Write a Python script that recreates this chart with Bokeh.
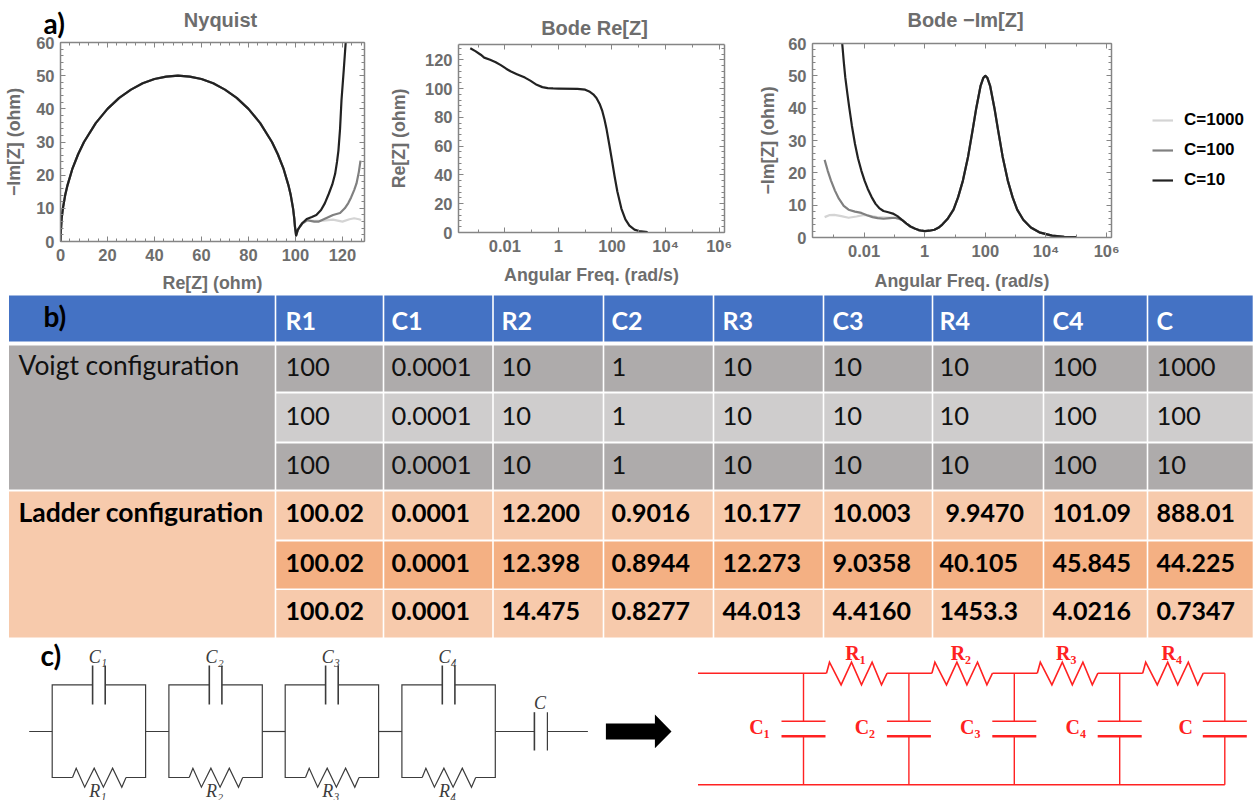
from bokeh.embed import file_html
from bokeh.resources import INLINE
from bokeh.core.properties import value
from bokeh.models import (CustomJSTickFormatter, CustomLabelingPolicy, FixedTicker, Legend, LegendItem,
                          LinearAxis, LogAxis, Range1d)
from bokeh.plotting import figure

# ---------- chart data ----------
arc_re = [0, 0.1, 0.5, 1, 2, 3, 5, 7.5, 10, 15, 20, 25, 30, 35, 40, 45, 50, 55, 60, 65, 70, 75, 80, 85, 90, 92.5, 95, 97, 98, 99, 99.5, 99.8, 100.3]
arc_im = [0, 2.5, 7, 9.9, 14, 17, 21.8, 26.3, 30, 35.7, 40, 43.3, 45.8, 47.7, 49, 49.7, 50, 49.7, 49, 47.7, 45.8, 43.3, 40, 35.7, 30, 26.3, 21.8, 17, 14, 9.9, 7, 4.5, 1.8]
tail_re_10 = [101, 102, 103, 104.8, 107, 108.9, 110.9, 112.5, 114.2, 115.7, 116.9, 117.7, 118.3, 119, 119.6, 120.6, 121.4]
tail_im_10 = [3.5, 4.6, 5.6, 6.8, 7.4, 8.0, 9.5, 11.5, 14.4, 17.2, 20.4, 24, 27.4, 34, 42.5, 52, 60]
tail_re_100 = [101, 102, 103, 105, 108, 110, 113, 116, 119, 121, 122.5, 123.7, 125, 126, 127, 127.7]
tail_im_100 = [3.5, 4.6, 5.5, 6.4, 6.0, 6.0, 7.0, 8.0, 8.6, 10, 11.6, 13.3, 15.5, 17.5, 21, 24.4]
tail_re_1000 = [101, 102, 103, 105, 108, 112, 116, 120, 123, 125, 127, 128]
tail_im_1000 = [3.5, 4.6, 5.5, 6.4, 6.2, 6.3, 6.6, 6.0, 6.7, 7.0, 6.7, 6.5]

re_logw = [-3.29, -3.1, -2.9, -2.77, -2.55, -2.34, -2.15, -1.95, -1.79, -1.55, -1.25, -1.05, -0.81, -0.6, -0.4, -0.2, 0, 0.71, 1.0, 1.15, 1.3, 1.42, 1.55, 1.64, 1.72, 1.8, 1.9, 2.0, 2.1, 2.2, 2.35, 2.5, 2.65, 2.84, 3.0, 3.33]
re_z = [128, 126, 123.5, 121.5, 120, 118.3, 116.3, 113.8, 112, 110, 107.6, 105.5, 102.6, 101, 100.3, 100.1, 100, 99.8, 99.2, 98, 96, 93.5, 88.9, 84.3, 78.5, 71.5, 61, 50, 38.7, 28.5, 16.6, 9.1, 4.8, 2, 1, 0.2]

common_logw = [-0.73, -0.6, -0.47, -0.33, -0.2, -0.1, 0, 0.15, 0.32, 0.45, 0.58, 0.75, 0.95, 1.1, 1.26, 1.43, 1.58, 1.7, 1.84, 1.93, 2, 2.07, 2.16, 2.3, 2.42, 2.57, 2.74, 2.9, 3.05, 3.25, 3.5, 3.78, 4.2, 4.6, 5.0]
common_im = [5.3, 4.3, 3.4, 2.8, 2.3, 2.1, 2.0, 2.1, 2.4, 3.0, 4.0, 5.7, 8.6, 12.4, 17.6, 25, 33.2, 40, 46.8, 49.3, 50, 49.3, 46.8, 40, 33.2, 25, 17.6, 12.4, 8.6, 5.5, 3.1, 1.6, 0.6, 0.2, 0.1]
low_logw_10 = [-2.72, -2.67, -2.62, -2.55, -2.49, -2.4, -2.3, -2.2, -2.09, -1.98, -1.88, -1.75, -1.62, -1.5, -1.36, -1.2, -1.05, -0.9]
low_im_10 = [60, 54.5, 49.6, 44.5, 40.3, 34.5, 29, 24.5, 20.7, 17.5, 15.1, 12.5, 10.4, 9.1, 8.2, 7.8, 7.4, 6.6]
low_logw_100 = [-3.3, -3.2, -3.09, -2.96, -2.83, -2.67, -2.51, -2.3, -2.09, -1.9, -1.72, -1.55, -1.36, -1.15, -0.99, -0.85]
low_im_100 = [24, 20.7, 17.6, 14.5, 12, 9.8, 8.6, 8.0, 7.6, 6.9, 6.3, 6.0, 5.8, 6.0, 6.1, 5.8]
low_logw_1000 = [-3.3, -3.15, -2.98, -2.75, -2.51, -2.25, -2.0, -1.57, -1.05, -0.85]
low_im_1000 = [6.3, 6.9, 7.0, 6.6, 6.1, 6.5, 7.0, 6.3, 6.1, 5.8]

series_names = ["C=1000", "C=100", "C=10"]
series_colors = ["#d4d4d4", "#808080", "#222222"]
decade_labels = {"-2": "0.01", "0": "1", "2": "100", "4": "10\u2074", "6": "10\u2076"}

# ---------- table ----------
table_headers = ["R1", "C1", "R2", "C2", "R3", "C3", "R4", "C4", "C"]
voigt_title = "Voigt configuration"
ladder_title = "Ladder configuration"
voigt_rows = [
    ["100", "0.0001", "10", "1", "10", "10", "10", "100", "1000"],
    ["100", "0.0001", "10", "1", "10", "10", "10", "100", "100"],
    ["100", "0.0001", "10", "1", "10", "10", "10", "100", "10"],
]
ladder_rows = [
    ["100.02", "0.0001", "12.200", "0.9016", "10.177", "10.003", "9.9470", "101.09", "888.01"],
    ["100.02", "0.0001", "12.398", "0.8944", "12.273", "9.0358", "40.105", "45.845", "44.225"],
    ["100.02", "0.0001", "14.475", "0.8277", "44.013", "4.4160", "1453.3", "4.0216", "0.7347"],
]

AX = "#858585"
TXT = "#6d6d6d"
FONT = "Liberation Sans"
SERIF = "Liberation Serif"
SANS = "Lato"
NO_LABELS = CustomLabelingPolicy(code="for (const i of []) yield i;")


def style_axis(ax, ticks, minors, blank=False):
    ax.ticker = FixedTicker(ticks=ticks, minor_ticks=minors)
    ax.axis_line_color = AX
    ax.axis_line_width = 1.5
    ax.major_tick_line_color = AX
    ax.minor_tick_line_color = AX
    ax.major_tick_in = 5
    ax.major_tick_out = 0
    ax.minor_tick_in = 3
    ax.minor_tick_out = 0
    ax.major_label_text_font = FONT
    ax.major_label_text_font_style = "bold"
    ax.major_label_text_color = TXT
    ax.major_label_text_font_size = "16.5px"
    ax.axis_label_text_font = FONT
    ax.axis_label_text_font_style = "bold"
    ax.axis_label_text_color = TXT
    ax.axis_label_text_font_size = "17.8px"
    if blank:
        ax.major_label_policy = NO_LABELS
        ax.major_label_standoff = 0


def panel(pos, w, left, right, top, frame_h, xr, yr, xlog, xt, xm, yt, ym,
          xlab, ylab, xstand, ystand, xlabstand, ylabstand):
    h = 320
    p = figure(width=w, height=h, min_border_left=left, min_border_right=right, min_border_top=top,
               min_border_bottom=h - top - frame_h, x_range=Range1d(*xr), y_range=Range1d(*yr),
               x_axis_type="log" if xlog else "linear", toolbar_location=None,
               output_backend="svg", background_fill_color="white", border_fill_color=None,
               outline_line_color=None)
    p.styles = {"position": "absolute", "left": f"{pos}px", "top": "0px"}
    p.grid.visible = False
    bottom_ax = p.below[0]
    left_ax = p.left[0]
    style_axis(bottom_ax, xt, xm)
    style_axis(left_ax, yt, ym)
    bottom_ax.axis_label = xlab
    left_ax.axis_label = ylab
    bottom_ax.major_label_standoff = xstand
    left_ax.major_label_standoff = ystand
    bottom_ax.axis_label_standoff = xlabstand
    left_ax.axis_label_standoff = ylabstand
    if xlog:
        bottom_ax.formatter = CustomJSTickFormatter(
            args=dict(labels=decade_labels),
            code="return labels[String(Math.round(Math.log10(tick)))]")
    top_ax = LogAxis() if xlog else LinearAxis()
    style_axis(top_ax, xt, xm, blank=True)
    p.add_layout(top_ax, "above")
    right_ax = LinearAxis()
    style_axis(right_ax, yt, ym, blank=True)
    p.add_layout(right_ax, "right")
    return p


dec = [1e-2, 1, 100, 1e4, 1e6]
dec_m = [1e-3, 1e-1, 10, 1e3, 1e5]

# ---------- a) Nyquist ----------
p1 = panel(0, 385, 60, 4, 42, 199, (0, 129.4), (0, 60), False,
           [0, 20, 40, 60, 80, 100, 120], list(range(0, 130, 4)),
           [0, 10, 20, 30, 40, 50, 60], list(range(0, 61, 2)),
           "Re[Z] (ohm)", "\u2212Im[Z] (ohm)", 7, 6, 9, 9)
for name, col, rx, ry in zip(series_names, series_colors,
                             [tail_re_1000, tail_re_100, tail_re_10],
                             [tail_im_1000, tail_im_100, tail_im_10]):
    p1.line(arc_re + rx, arc_im + ry, line_color=col, line_width=2.2, line_join="round")

# ---------- a) Bode Re[Z] ----------
p2 = panel(385, 370, 59, 7, 44, 188, (10 ** -3.73, 10 ** 6.2), (0, 130.6), True,
           dec, dec_m, [0, 20, 40, 60, 80, 100, 120], list(range(0, 131, 4)),
           "Angular Freq. (rad/s)", "Re[Z] (ohm)", 4, 6, 7, 13)
p2.line([10 ** v for v in re_logw], re_z, line_color=series_colors[2], line_width=2.2, line_join="round")

# ---------- a) Bode -Im[Z] ----------
p3 = panel(755, 377, 54, 10, 43, 194, (10 ** -3.7, 10 ** 6.16), (0, 60), True,
           dec, dec_m, [0, 10, 20, 30, 40, 50, 60], list(range(0, 61, 2)),
           "Angular Freq. (rad/s)", "\u2212Im[Z] (ohm)", 4, 6, 8, 7)
for name, col, lx, ly in zip(series_names, series_colors,
                             [low_logw_1000, low_logw_100, low_logw_10],
                             [low_im_1000, low_im_100, low_im_10]):
    p3.line([10 ** v for v in lx + common_logw], ly + common_im, line_color=col, line_width=2.2, line_join="round")

# ---------- sheet over the whole page: titles, labels, legend, table, circuits ----------
q = figure(width=1256, height=800, x_range=Range1d(0, 1256), y_range=Range1d(800, 0), x_axis_type=None,
           y_axis_type=None, toolbar_location=None, output_backend="svg", outline_line_color=None,
           min_border=0, border_fill_color=None, background_fill_color=None)
q.styles = {"position": "absolute", "left": "0px", "top": "0px"}
q.grid.visible = False

col_edges = [8.5, 275, 383, 492.5, 603, 713, 823, 932, 1043, 1147, 1253]
head_y = (295, 341)
row_ys = [(345, 391), (393, 441), (443, 489), (491, 539), (541, 588), (589.5, 637)]
GAP = 0.8


def cell(x0, x1, y0, y1, color):
    q.quad(left=x0, right=x1, top=y0, bottom=y1, fill_color=color, line_color=None)


def txt(x, y, s, size, color="black", style="normal", font=SANS, align="left"):
    q.text([x], [y], text=[s], text_font=value(font), text_font_size=size, text_color=color,
           text_font_style=style, text_align=align, text_baseline="middle")


txt(220, 19, "Nyquist", "20px", TXT, "bold", FONT, "center")
txt(594, 27, "Bode Re[Z]", "20px", TXT, "bold", FONT, "center")
txt(965, 19, "Bode \u2212Im[Z]", "20px", TXT, "bold", FONT, "center")

for i in range(10):
    cell(col_edges[i] + (GAP if i else 0), col_edges[i + 1] - GAP, head_y[0], head_y[1], "#4472C4")
cell(col_edges[0], col_edges[1] - GAP, row_ys[0][0], row_ys[2][1], "#AEABAB")
cell(col_edges[0], col_edges[1] - GAP, row_ys[3][0], row_ys[5][1], "#F7CAAC")
row_colors = ["#AEABAB", "#CFCDCD", "#AEABAB", "#F7CAAC", "#F4B083", "#F7CAAC"]
for j, (y0, y1) in enumerate(row_ys):
    for i in range(1, 10):
        cell(col_edges[i] + GAP, col_edges[i + 1] - GAP, y0, y1, row_colors[j])

text_x = [285, 391, 501, 611, 722, 832, 939, 1052, 1156]
for h_txt, x in zip(table_headers, text_x):
    txt(x, 319, h_txt, "25px", "white", "bold")
txt(18, 364, voigt_title, "26.4px", "#111111")
txt(18, 511, ladder_title, "26.5px", "black", "bold")
txt(43, 22, "a)", "28px", "black", "bold")
txt(43, 315, "b)", "28px", "black", "bold")
for j, rw in enumerate(voigt_rows):
    yc = sum(row_ys[j]) / 2 - 2
    for s, x in zip(rw, text_x):
        txt(x, yc, s, "25.5px", "#111111")
for j, rw in enumerate(ladder_rows):
    yc = sum(row_ys[j + 3]) / 2 - 2.5
    for s, x in zip(rw, text_x):
        txt(x + (6 if s == "9.9470" else 0), yc, s, "25px", "black", "bold")

# legend
legend_items = []
for name, col in zip(series_names, series_colors):
    r = q.line([float("nan")] * 2, [float("nan")] * 2, line_color=col, line_width=2.2)
    legend_items.append(LegendItem(label=name, renderers=[r]))
q.add_layout(Legend(items=legend_items, location=(1152, 800 - 190), orientation="vertical",
                    border_line_color=None, background_fill_color=None, glyph_width=21, glyph_height=20,
                    label_height=20, spacing=10, padding=0, margin=0, label_standoff=11,
                    label_text_font=FONT, label_text_font_style="bold", label_text_font_size="17px",
                    label_text_color="black"))

# ---------- c) Voigt circuit ----------
K = "#3c3c3c"
txt(40, 654, "c)", "28px", "black", "bold")
box_left = [51.7, 168.4, 284.7, 401.4]
box_w = 93.4
ytop, ybot, ymid = 684.3, 777, 731
sub = ["\u2081", "\u2082", "\u2083", "\u2084"]


def wire(xs, ys, color=K, w=1.2):
    q.line(xs, ys, line_color=color, line_width=w, line_join="miter")


wire([28.7, box_left[0]], [ymid, ymid])
for k, bx in enumerate(box_left):
    cx = bx + box_w / 2
    wire([cx - 6.3, bx, bx, bx + 20.3], [ytop, ytop, ybot, ybot])
    wire([cx + 6.3, bx + box_w, bx + box_w, bx + 73.8], [ytop, ytop, ybot, ybot])
    wire([cx - 6.3, cx - 6.3], [665, 704], w=1.6)
    wire([cx + 6.3, cx + 6.3], [665, 704], w=1.6)
    zig_x = [20.3, 24, 32.5, 42, 51.2, 60.4, 69.6, 73.8]
    zig_y = [ybot, 767.7, 786.7, 767.7, 786.7, 767.7, 786.7, ybot]
    wire([bx + v for v in zig_x], zig_y)
    nxt = box_left[k + 1] if k < 3 else 533.9
    wire([bx + box_w, nxt], [ymid, ymid])
    txt(cx - 1, 656, "C" + sub[k], "18px", K, "italic", SERIF, "center")
    txt(cx - 1, 790, "R" + sub[k], "18px", K, "italic", SERIF, "center")
wire([533.9, 533.9], [711.7, 750], w=1.6)
wire([546.9, 546.9], [711.7, 750], w=1.2)
wire([546.9, 587.4], [ymid, ymid])
txt(539.6, 702, "C", "18px", K, "italic", SERIF, "center")

# arrow
q.patch([605.4, 654.4, 654.4, 671, 654.4, 654.4, 605.4], [723, 723, 714, 731, 747.7, 739, 739],
        fill_color="black", line_color=None)

# ---------- c) ladder circuit ----------
RED = "#FF2222"
rtop, rbot = 672.7, 784.3
verts = [803, 908.4, 1013.8, 1119.2, 1224.3]
names = ["C\u2081", "C\u2082", "C\u2083", "C\u2084", "C"]
rnames = ["R\u2081", "R\u2082", "R\u2083", "R\u2084"]
wire([697.5, verts[0] + 23], [rtop, rtop], RED, 1.4)
wire([697.5, verts[-1]], [rbot, rbot], RED, 1.6)
for k, vx in enumerate(verts):
    wire([vx, vx], [rtop, 720.7], RED, 1.4)
    wire([vx, vx], [735.7, rbot], RED, 1.4)
    wire([vx - 22, vx + 22], [720.7, 720.7], RED, 1.4)
    wire([vx - 22, vx + 22], [735.7, 735.7], RED, 2.6)
    txt(vx - 44 + (5 if k == 4 else 0), 726, names[k], "20px", RED, "bold", SERIF, "center")
    if k < 4:
        zx = [23, 26, 37.6, 48, 58, 68.6, 78, 83.6]
        zy = [rtop, 661.7, 684.3, 661.7, 684.3, 661.7, 684.3, rtop]
        wire([vx + v for v in zx], zy, RED, 1.6)
        wire([vx + 83.6, verts[k + 1] + (23 if k < 3 else 0)], [rtop, rtop], RED, 1.4)
        txt(vx + 52, 652, rnames[k], "20px", RED, "bold", SERIF, "center")

open("out.html", "w").write(file_html([p1, p2, p3, q], INLINE))
